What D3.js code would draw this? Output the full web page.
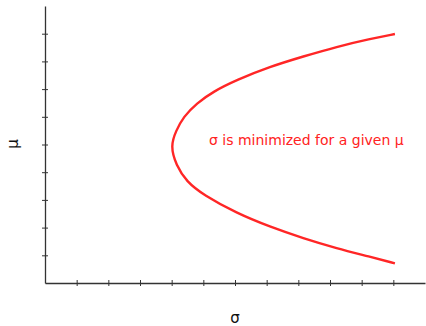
<!doctype html>
<html lang="en">
<head>
    <meta charset="UTF-8">
    <title>Minimum variance frontier</title>
    <script src="https://d3js.org/d3.v7.min.js"></script>
    <style>
        body {
            margin: 0;
            background: #fff;
        }
        .axis path, .axis line {
            stroke: #333;
        }
        .axis-title {
            font-family: "DejaVu Sans", sans-serif;
            font-size: 15px;
            fill: #111;
        }
        .note {
            font-family: "DejaVu Sans", sans-serif;
            font-size: 14px;
            fill: #ff2222;
        }
    </style>
</head>
<body>
    <svg width="426" height="326"></svg>

    <script>
        // frontier, top end -> vertex -> bottom end
        const sigma = [11.05, 10.26, 9.21, 8.16, 7.10, 6.05, 5.31, 4.79, 4.37, 4.14, 3.96, 4.14, 4.47, 5.00, 6.05, 7.10, 8.16, 9.21, 10.26, 11.05];
        const mu    = [8.99, 8.81, 8.53, 8.18, 7.81, 7.33, 6.91, 6.49, 6.00, 5.50, 4.95, 4.25, 3.66, 3.18, 2.52, 2.03, 1.61, 1.25, 0.95, 0.71];

        const xTicks = [1, 2, 3, 4, 5, 6, 7, 8, 9, 10, 11];
        const yTicks = [1, 2, 3, 4, 5, 6, 7, 8, 9];

        const xTitle = "σ";
        const yTitle = "μ";
        const note = "σ is minimized for a given μ";

        const svg = d3.select("svg");

        const x = d3.scaleLinear().domain([0, 12]).range([45, 425]);
        const y = d3.scaleLinear().domain([0, 10]).range([283, 6]);

        // axes, ticks cross the line
        const gx = svg.append("g")
            .attr("class", "axis")
            .attr("transform", `translate(0,${y(0)})`)
            .call(d3.axisBottom(x).tickValues(xTicks).tickSize(3).tickSizeOuter(0).tickFormat(""));
        gx.selectAll(".tick line").attr("y1", -3).attr("y2", 3);
        gx.select(".domain").attr("stroke-width", 1.3);

        const gy = svg.append("g")
            .attr("class", "axis")
            .attr("transform", `translate(${x(0)},0)`)
            .call(d3.axisLeft(y).tickValues(yTicks).tickSize(3).tickSizeOuter(0).tickFormat(""));
        gy.selectAll(".tick line").attr("x1", -3).attr("x2", 3);
        gy.select(".domain").attr("stroke-width", 1.3);

        const points = sigma.map((s, i) => [s, mu[i]]);

        svg.append("path")
            .datum(points)
            .attr("fill", "none")
            .attr("stroke", "#ff2626")
            .attr("stroke-width", 2.4)
            .attr("d", d3.line()
                .x(d => x(d[0]))
                .y(d => y(d[1]))
                .curve(d3.curveBasis));

        svg.append("text")
            .attr("class", "note")
            .attr("x", 209)
            .attr("y", 145)
            .text(note);

        svg.append("text")
            .attr("class", "axis-title")
            .attr("text-anchor", "middle")
            .attr("x", (x(0) + x(12)) / 2)
            .attr("y", 323)
            .text(xTitle);

        svg.append("text")
            .attr("class", "axis-title")
            .attr("text-anchor", "middle")
            .attr("transform", "translate(18,144) rotate(-90)")
            .text(yTitle);
    </script>
</body>
</html>
